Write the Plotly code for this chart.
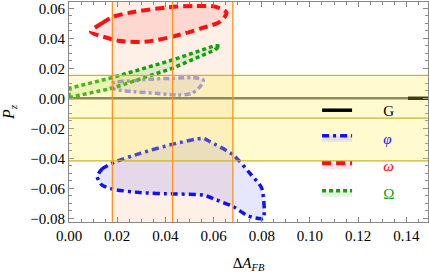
import plotly.graph_objects as go

# ---- data ----
omega_x = [0.0091, 0.0136, 0.0184, 0.0274, 0.0412, 0.0523, 0.0606, 0.0654, 0.0627, 0.0550, 0.0440, 0.0315, 0.0205, 0.0149, 0.0091]
omega_y = [0.0444, 0.0500, 0.0544, 0.0577, 0.0607, 0.0615, 0.0611, 0.0571, 0.0511, 0.0467, 0.0415, 0.0377, 0.0384, 0.0407, 0.0444]

Omega_x = [0.0, 0.018, 0.0429, 0.0606, 0.0627, 0.0606, 0.0429, 0.018, 0.0, 0.0]
Omega_y = [0.0005, 0.0067, 0.0200, 0.0322, 0.0349, 0.0351, 0.0255, 0.0138, 0.0066, 0.0005]

phi_x = [0.0117, 0.0136, 0.0184, 0.0295, 0.0433, 0.0557, 0.0585, 0.0682, 0.0751, 0.0800, 0.0806,
         0.0744, 0.0682, 0.0613, 0.0557, 0.0433, 0.0295, 0.0184, 0.0136, 0.0117]
phi_y = [-0.0523, -0.0473, -0.0429, -0.0367, -0.0305, -0.0267, -0.0289, -0.0378, -0.0500, -0.0600, -0.0800,
         -0.0785, -0.0723, -0.0678, -0.0645, -0.0638, -0.0629, -0.0607, -0.0578, -0.0523]

phi2_x = [0.0184, 0.0267, 0.0350, 0.0433, 0.0516, 0.0557, 0.0544, 0.0509, 0.0447, 0.0364, 0.0267, 0.0191, 0.0174, 0.0184]
phi2_y = [0.0104, 0.0117, 0.0129, 0.0133, 0.0137, 0.0122, 0.0077, 0.0033, 0.0022, 0.0033, 0.0044, 0.0060, 0.0077, 0.0104]

G_x = [0.1407, 0.149]
G_y = [0.0, 0.0]

afb_lines = [0.018, 0.043, 0.068]
pz_band = [0.0153, -0.0133, -0.0418]

x_ticks = [0.00, 0.02, 0.04, 0.06, 0.08, 0.10, 0.12, 0.14]
y_ticks = [-0.08, -0.06, -0.04, -0.02, 0.00, 0.02, 0.04, 0.06]

FONT = "Liberation Serif"
PAD = "\u00a0" * 7

fig = go.Figure()

fig.add_trace(go.Scatter(x=phi2_x, y=phi2_y, mode="lines", fill="toself",
                         fillcolor="rgba(90,90,255,0.12)",
                         line=dict(color="rgb(135,128,248)", width=3.5, dash="6px,3px,3px,3px",
                                   shape="spline", smoothing=0.8),
                         showlegend=False, hoverinfo="skip"))
fig.add_trace(go.Scatter(x=G_x, y=G_y, mode="lines", name=PAD + "G", legendgroup="g1",
                         line=dict(color="black", width=3.5)))
fig.add_trace(go.Scatter(x=phi_x, y=phi_y, mode="lines", fill="toself",
                         fillcolor="rgba(60,60,255,0.13)",
                         name=PAD + "<span style='color:#1010ff'><i>φ</i></span>",
                         legendgroup="g2",
                         line=dict(color="#1010ff", width=3.5, dash="7px,4px,3px,4px",
                                   shape="spline", smoothing=0.6)))
fig.add_trace(go.Scatter(x=omega_x, y=omega_y, mode="lines", fill="toself",
                         fillcolor="rgba(255,40,60,0.12)",
                         name=PAD + "<span style='color:red'><i>ω</i></span>",
                         legendgroup="g3",
                         line=dict(color="#ff1010", width=4, dash="9px,5px",
                                   shape="spline", smoothing=0.8)))
fig.add_trace(go.Scatter(x=Omega_x, y=Omega_y, mode="lines", fill="toself",
                         fillcolor="rgba(60,180,40,0.15)",
                         name=PAD + "<span style='color:#10a010'>Ω</span>",
                         legendgroup="g4",
                         line=dict(color="#10a010", width=3.5, dash="4px,3px")))

shapes = []
shapes.append(dict(type="rect", xref="x", yref="paper", x0=afb_lines[0], x1=afb_lines[-1], y0=0, y1=1,
                   fillcolor="rgba(250,150,80,0.14)", line=dict(width=0), layer="below"))
shapes.append(dict(type="rect", xref="paper", yref="y", x0=0, x1=1, y0=pz_band[0], y1=pz_band[-1],
                   fillcolor="rgba(255,238,60,0.25)", line=dict(width=0), layer="above"))
for v in pz_band:
    shapes.append(dict(type="line", xref="paper", yref="y", x0=0, x1=1, y0=v, y1=v,
                       line=dict(color="#c8b432", width=1.2), layer="above"))
for v in afb_lines:
    shapes.append(dict(type="line", xref="x", yref="paper", x0=v, x1=v, y0=0, y1=1,
                       line=dict(color="#ff9020", width=1.3), layer="above"))
shapes.append(dict(type="line", xref="paper", yref="y", x0=0, x1=1, y0=0, y1=0,
                   line=dict(color="rgba(80,80,80,0.85)", width=2.5), layer="below"))

axis_common = dict(showline=True, linecolor="#888888", linewidth=1, mirror="ticks",
                   ticks="inside", ticklen=5, tickcolor="#888888", tickwidth=1,
                   showgrid=False, zeroline=False, automargin=False,
                   tickfont=dict(family=FONT, size=15, color="black"),
                   tickformat=".2f")

fig.update_layout(
    width=429, height=273,
    margin=dict(l=69, r=1, t=2, b=51),
    paper_bgcolor="white", plot_bgcolor="white",
    font=dict(family=FONT, size=15, color="black"),
    shapes=shapes,
    xaxis=dict(range=[0, 0.149], tickvals=x_ticks,
               minor=dict(ticks="inside", ticklen=3, dtick=0.005, tickcolor="#888888", showgrid=False),
               title=dict(text="Δ<i>A</i><sub><i>FB</i></sub>", font=dict(family=FONT, size=15)),
               **axis_common),
    yaxis=dict(range=[-0.0825, 0.0642], tickvals=y_ticks,
               minor=dict(ticks="inside", ticklen=3, dtick=0.005, tickcolor="#888888", showgrid=False),
               title=dict(text="<i>P</i><sub><i>z</i></sub>", font=dict(family=FONT, size=16)),
               **axis_common),
    legend=dict(x=0.691, y=0.582, xanchor="left", yanchor="top", bgcolor="rgba(0,0,0,0)",
                traceorder="grouped", tracegroupgap=5,
                font=dict(family=FONT, size=15)),
)

fig.write_html("out.html", config={"displayModeBar": False},
               post_script="document.body.style.margin='0';document.body.style.overflow='hidden';")
